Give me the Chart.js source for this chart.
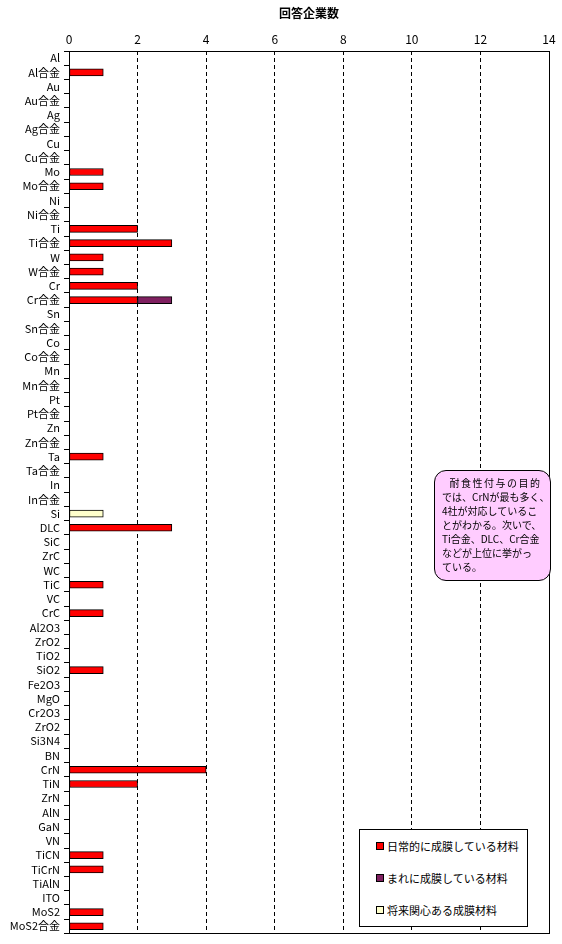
<!DOCTYPE html>
<html>
<head>
<meta charset="utf-8">
<script src="https://cdn.jsdelivr.net/npm/chart.js@4"></script>
<style>
    body { margin: 0; background: #fff; font-family: "Noto Sans CJK JP", sans-serif; }
    #wrap { position: relative; width: 562px; height: 944px; }
    #legendBox {
        position: absolute; left: 359px; top: 829px; width: 167px; height: 96px;
        border: 1px solid #000; background: #fff; font-size: 11px; color: #000;
    }
    .leg-item { position: absolute; left: 16px; height: 14px; line-height: 14px; white-space: nowrap; }
    .leg-item span.sw { display: inline-block; width: 6px; height: 6px; border: 1px solid #000; margin-right: 3px; vertical-align: 1px; }
    #note {
        position: absolute; left: 434px; top: 470px; width: 117px; height: 111px;
        border: 1px solid #000; border-radius: 12px; background: #ffccff;
        font-size: 10px; line-height: 14px; color: #000; box-sizing: border-box; padding: 5px 0 0 7px;
        white-space: nowrap;
    }
</style>
</head>
<body>
<div id="wrap">
    <canvas id="chart" width="562" height="944"></canvas>
    <div id="note">
        <div style="letter-spacing:1.5px">&nbsp;&nbsp;耐食性付与の目的</div>
        <div>では、CrNが最も多く、</div>
        <div>4社が対応しているこ</div>
        <div>とがわかる。次いで、</div>
        <div>Ti合金、DLC、Cr合金</div>
        <div>などが上位に挙がっ</div>
        <div>ている。</div>
    </div>
    <div id="legendBox"></div>
</div>
<script>
const categories = ['Al', 'Al合金', 'Au', 'Au合金', 'Ag', 'Ag合金', 'Cu', 'Cu合金', 'Mo', 'Mo合金',
    'Ni', 'Ni合金', 'Ti', 'Ti合金', 'W', 'W合金', 'Cr', 'Cr合金', 'Sn', 'Sn合金',
    'Co', 'Co合金', 'Mn', 'Mn合金', 'Pt', 'Pt合金', 'Zn', 'Zn合金', 'Ta', 'Ta合金',
    'In', 'In合金', 'Si', 'DLC', 'SiC', 'ZrC', 'WC', 'TiC', 'VC', 'CrC',
    'Al2O3', 'ZrO2', 'TiO2', 'SiO2', 'Fe2O3', 'MgO', 'Cr2O3', 'ZrO2', 'Si3N4', 'BN',
    'CrN', 'TiN', 'ZrN', 'AlN', 'GaN', 'VN', 'TiCN', 'TiCrN', 'TiAlN', 'ITO',
    'MoS2', 'MoS2合金'];

// 日常的に成膜している材料
const dailyValues = [0, 1, 0, 0, 0, 0, 0, 0, 1, 1,
    0, 0, 2, 3, 1, 1, 2, 2, 0, 0,
    0, 0, 0, 0, 0, 0, 0, 0, 1, 0,
    0, 0, 0, 3, 0, 0, 0, 1, 0, 1,
    0, 0, 0, 1, 0, 0, 0, 0, 0, 0,
    4, 2, 0, 0, 0, 0, 1, 1, 0, 0,
    1, 1];
// まれに成膜している材料 (Cr合金 only)
const rareValues = [0, 0, 0, 0, 0, 0, 0, 0, 0, 0,
    0, 0, 0, 0, 0, 0, 0, 1, 0, 0,
    0, 0, 0, 0, 0, 0, 0, 0, 0, 0,
    0, 0, 0, 0, 0, 0, 0, 0, 0, 0,
    0, 0, 0, 0, 0, 0, 0, 0, 0, 0,
    0, 0, 0, 0, 0, 0, 0, 0, 0, 0,
    0, 0];
// 将来関心ある成膜材料 (Si only)
const futureValues = [0, 0, 0, 0, 0, 0, 0, 0, 0, 0,
    0, 0, 0, 0, 0, 0, 0, 0, 0, 0,
    0, 0, 0, 0, 0, 0, 0, 0, 0, 0,
    0, 0, 1, 0, 0, 0, 0, 0, 0, 0,
    0, 0, 0, 0, 0, 0, 0, 0, 0, 0,
    0, 0, 0, 0, 0, 0, 0, 0, 0, 0,
    0, 0];

const seriesNames = ['日常的に成膜している材料', 'まれに成膜している材料', '将来関心ある成膜材料'];
const seriesColors = ['#ff0000', '#7f2060', '#ffffcc'];
const xTicks = [0, 2, 4, 6, 8, 10, 12, 14];

const FONT = '"Noto Sans CJK JP", sans-serif';

// solid frame round the plot area
const frameBorder = {
    id: 'frameBorder',
    afterDatasetsDraw(chart) {
        const a = chart.chartArea;
        const ctx = chart.ctx;
        ctx.save();
        ctx.setLineDash([]);
        ctx.strokeStyle = '#000';
        ctx.lineWidth = 1;
        ctx.strokeRect(Math.round(a.left) + 0.5, Math.round(a.top) + 0.5,
            Math.round(a.right - a.left), Math.round(a.bottom - a.top));
        ctx.restore();
    }
};

new Chart(document.getElementById('chart'), {
    type: 'bar',
    data: {
        labels: categories,
        datasets: [dailyValues, rareValues, futureValues].map((d, i) => ({
            label: seriesNames[i],
            // empty cells are left out so no hairline borders are drawn for them
            data: d.map(v => v === 0 ? null : v),
            backgroundColor: seriesColors[i],
            borderColor: '#000',
            borderWidth: 1,
            borderSkipped: false,
            barThickness: 7,
            categoryPercentage: 1
        }))
    },
    options: {
        indexAxis: 'y',
        responsive: false,
        animation: false,
        layout: { padding: { left: 0, right: 13, top: 0, bottom: 4 } },
        plugins: { legend: { display: false }, tooltip: { enabled: false } },
        scales: {
            x: {
                position: 'top',
                stacked: true,
                min: 0,
                max: 14,
                afterBuildTicks: (s) => { s.ticks = xTicks.map(v => ({ value: v })); },
                afterFit: (s) => { s.height = 51; },
                ticks: { color: '#000', font: { family: FONT, size: 12 }, padding: 4, maxRotation: 0 },
                grid: {
                    color: (c) => (c.tick && (c.tick.value === 0 || c.tick.value === 14)) ? 'rgba(0,0,0,0)' : '#000',
                    lineWidth: 1,
                    drawTicks: false
                },
                border: { display: false, dash: [4, 3] },
                title: { display: true, text: '回答企業数', color: '#000', font: { family: FONT, size: 12, weight: 'bold' }, padding: { top: 6, bottom: 2 } }
            },
            y: {
                stacked: true,
                afterFit: (s) => { s.width = 69; },
                ticks: { color: '#000', font: { family: FONT, size: 11 }, padding: 4, autoSkip: false },
                grid: { drawOnChartArea: false, tickLength: 5, color: '#000', offset: true },
                border: { display: true, color: '#000' }
            }
        }
    },
    plugins: [frameBorder]
});

const legendBox = document.getElementById('legendBox');
seriesNames.forEach((name, i) => {
    const item = document.createElement('div');
    item.className = 'leg-item';
    item.style.top = (9 + i * 32) + 'px';
    item.innerHTML = '<span class="sw" style="background:' + seriesColors[i] + '"></span>' + name;
    legendBox.appendChild(item);
});
</script>
</body>
</html>
